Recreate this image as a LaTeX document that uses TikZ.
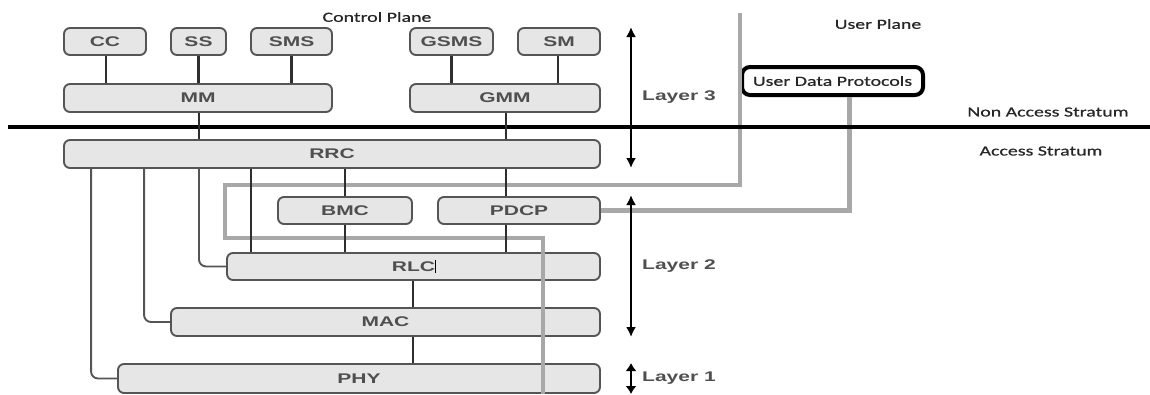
\documentclass[tikz,border=0pt]{standalone}
\usepackage{fontspec}
\usetikzlibrary{arrows.meta}
\newfontfamily\boxfont[FakeStretch=1.5]{Liberation Sans}
\newfontfamily\labfont[FakeStretch=1.42,FakeBold=0.6]{Carlito}
\definecolor{boxfill}{HTML}{E6E6E6}
\definecolor{boxline}{HTML}{555555}
\definecolor{boxtext}{HTML}{4F4F4F}
\definecolor{wirecol}{HTML}{2E2E2E}
\definecolor{uplane}{HTML}{A8A8A8}
\definecolor{labtext}{HTML}{262626}
\tikzset{
  blk/.style={draw=boxline, fill=boxfill, rounded corners=6pt, line width=1.9pt,
    inner sep=0pt, minimum height=27pt, text=boxtext,
    font=\boxfont\bfseries\fontsize{14}{16}\selectfont},
  wire/.style={draw=wirecol, line width=2.4pt},
  sidewire/.style={draw=boxline, line width=1.9pt, rounded corners=7pt},
  uline/.style={draw=uplane, line width=4.5pt},
  tip/.style={Latex[length=10pt,width=10pt]},
  layarrow/.style={draw=black, line width=2.3pt, {Latex[length=10pt,width=10pt]}-{Latex[length=10pt,width=10pt]}},
  lay/.style={text=boxtext, inner sep=0pt, font=\boxfont\bfseries\fontsize{14}{16}\selectfont},
  lab/.style={text=labtext, inner sep=0pt, font=\labfont\fontsize{14}{16}\selectfont}
}
\begin{document}
\begin{tikzpicture}[x=1pt, y=-1pt]
\useasboundingbox (0,0) rectangle (1150,394);

% plane and stratum labels
\node[lab] (cplane) at (377,17) {Control Plane};
\node[lab] (uplabel) at (878,24) {User Plane};
\node[lab] (nas) at (1048,112) {Non Access Stratum};
\node[lab] (as) at (1041,151) {Access Stratum};

% upper layer 3 entities
\node[blk, minimum width=82pt] (cc) at (105,41.5) {CC};
\node[blk, minimum width=55pt] (ss) at (198.5,41.5) {SS};
\node[blk, minimum width=81pt] (sms) at (291.5,41.5) {SMS};
\node[blk, minimum width=83pt] (gsms) at (451.5,41.5) {GSMS};
\node[blk, minimum width=82pt] (sm) at (559,41.5) {SM};
\node[blk, minimum width=268pt, minimum height=28pt] (mm) at (198,98) {MM};
\node[blk, minimum width=190pt, minimum height=28pt] (gmm) at (505,98) {GMM};

% access stratum
\node[blk, minimum width=536pt, minimum height=28pt] (rrc) at (332,154) {RRC};
\node[blk, minimum width=134pt] (bmc) at (345,210.5) {BMC};
\node[blk, minimum width=162pt] (pdcp) at (519,210.5) {PDCP};
\node[blk, minimum width=373pt] (rlc) at (413.5,266.5) {RLC\makebox[0pt][l]{\color{black}\rule[-1.5pt]{0.9pt}{13pt}}};
\node[blk, minimum width=429pt, minimum height=28pt] (mac) at (385.5,322) {MAC};
\node[blk, minimum width=482pt, minimum height=29pt] (phy) at (359,378.5) {PHY};

% user data protocols
\node[draw=black, fill=white, line width=4pt, rounded corners=8pt, inner sep=0pt,
      minimum width=181pt, minimum height=28pt, lab] (udp) at (832.5,81) {User Data Protocols};

% user plane paths
\coordinate (upTop) at (740,13);
\coordinate (upBot) at (543,394);
\draw[uline] (upTop) -- (740,185) -- (225,185) -- (225,238) -- (543,238) -- (upBot);
\draw[uline] ([xshift=17pt]udp.south) |- (pdcp.east);

% NAS / AS boundary
\coordinate (bndL) at (8,127);
\coordinate (bndR) at (1150,127);
\draw[line width=3.6pt, black] (bndL) -- (bndR);

% connectors between entities
\draw[wire] ([xshift=1pt]cc.south) -- ([xshift=1pt]cc.south |- mm.north);
\draw[wire] (ss.south) -- (ss.south |- mm.north);
\draw[wire] (sms.south) -- (sms.south |- mm.north);
\draw[wire] (gsms.south) -- (gsms.south |- gmm.north);
\draw[wire] ([xshift=-1pt]sm.south) -- ([xshift=-1pt]sm.south |- gmm.north);
\draw[wire] ([xshift=1pt]mm.south) -- ([xshift=1pt]mm.south |- rrc.north);
\draw[wire] ([xshift=1pt]gmm.south) -- ([xshift=1pt]gmm.south |- rrc.north);
\draw[wire] ([xshift=1pt]gmm.south |- rrc.south) -- ([xshift=1pt]gmm.south |- pdcp.north);
\draw[wire] ([xshift=1pt]gmm.south |- pdcp.south) -- ([xshift=1pt]gmm.south |- rlc.north);
\draw[wire] (bmc.north |- rrc.south) -- (bmc.north);
\draw[wire] (bmc.south) -- (bmc.south |- rlc.north);
\draw[wire] ([xshift=25pt]rlc.north west |- rrc.south) -- ([xshift=25pt]rlc.north west);
\draw[wire] (rlc.south -| bmc.east) -- (mac.north -| bmc.east);
\draw[wire] (mac.south -| bmc.east) -- (phy.north -| bmc.east);
\draw[sidewire] ([xshift=1pt]mm.south |- rrc.south) |- (rlc.west);
\draw[sidewire] ([xshift=81pt]rrc.south west) |- (mac.west);
\draw[sidewire] ([xshift=28pt]rrc.south west) |- (phy.west);

% layer extents
\coordinate (l3t) at (631,27);
\coordinate (l3b) at (631,168);
\coordinate (l2t) at (631,195);
\coordinate (l2b) at (631,337);
\coordinate (l1t) at (631,363);
\coordinate (l1b) at (631,394);
\draw[layarrow] (l3t) -- (l3b);
\draw[layarrow] (l2t) -- (l2b);
\draw[black, line width=2.3pt, {Latex[length=8pt,width=11pt]}-{Latex[length=8pt,width=11pt]}] (l1t) -- (l1b);
\node[lay, anchor=west] (lay3) at (642,97) {Layer 3};
\node[lay, anchor=west] (lay2) at (642,266) {Layer 2};
\node[lay, anchor=west] (lay1) at (642,378) {Layer 1};
\end{tikzpicture}
\end{document}
